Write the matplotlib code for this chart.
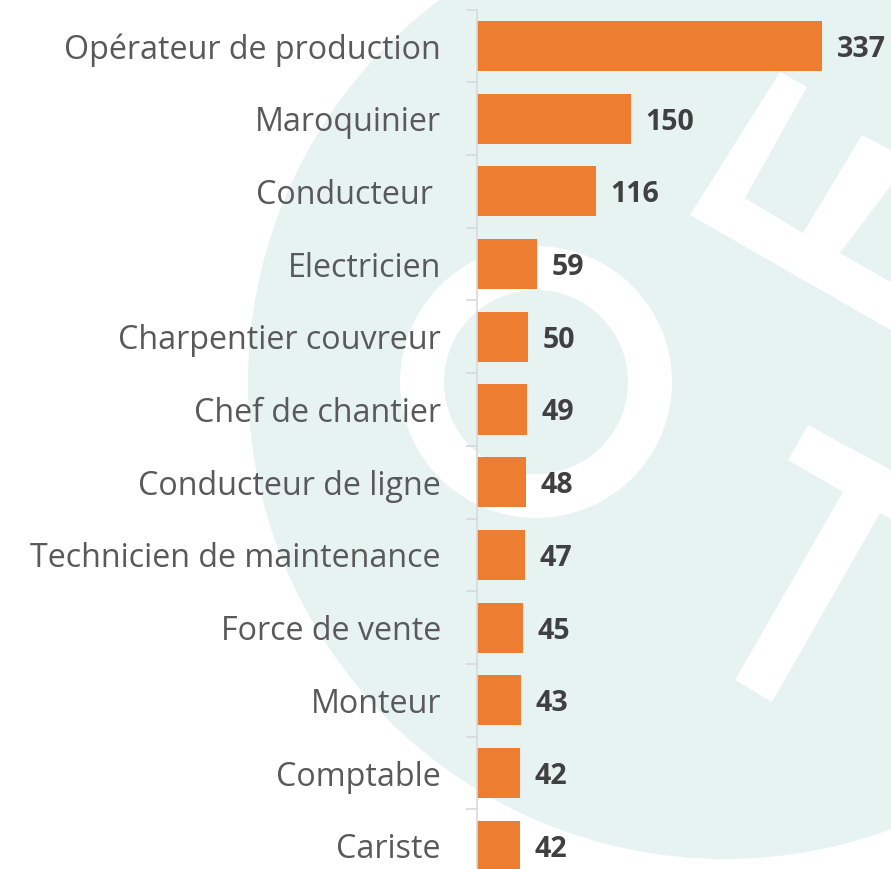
import matplotlib
matplotlib.use("Agg")
import matplotlib.pyplot as plt
from matplotlib.patches import Circle, Annulus, Polygon

# chart data
metiers = ["Opérateur de production", "Maroquinier", "Conducteur ", "Electricien",
           "Charpentier couvreur", "Chef de chantier", "Conducteur de ligne",
           "Technicien de maintenance", "Force de vente", "Monteur", "Comptable", "Cariste"]
effectifs = [337, 150, 116, 59, 50, 49, 48, 47, 45, 43, 42, 42]

W, H = 891, 869
fig = plt.figure(figsize=(W / 100, H / 100), dpi=100)
fig.patch.set_facecolor("white")

# watermark in the background (pixel coordinates)
bg = fig.add_axes([0, 0, 1, 1], zorder=0)
bg.set_xlim(0, W)
bg.set_ylim(H, 0)
bg.axis("off")
teal = "#E7F3F0"
bg.add_patch(Circle((725, 382), 477, color=teal, lw=0))
bg.add_patch(Annulus((536, 382), 136, 44, color="white", lw=0))
bg.add_patch(Polygon([(780, 72), (807, 87), (745, 198), (803, 233), (862, 135), (910, 160),
                      (840, 253), (950, 316), (950, 364), (690, 215)],
                     closed=True, color="white", lw=0))
bg.add_patch(Polygon([(808, 425), (950, 502), (950, 553), (880, 513), (772, 702),
                      (735, 680), (843, 492), (788, 460)],
                     closed=True, color="white", lw=0))

# bar chart
ax_left, ax_top = 477, 9.65
pitch = 72.7
ax_h = pitch * len(metiers)
ax = fig.add_axes([ax_left / W, (H - ax_top - ax_h) / H, (W - ax_left) / W, ax_h / H], zorder=1)
ax.patch.set_alpha(0)

ypos = list(range(len(metiers)))
bars = ax.barh(ypos, effectifs, height=0.688, color="#ED7D31")
ax.set_ylim(len(metiers) - 0.5, -0.5)
ax.set_xlim(0, (W - ax_left) / 1.0237)

vals = ax.bar_label(bars, labels=[str(v) for v in effectifs], padding=10.5,
                    fontsize=20.5, fontweight="bold", color="#404040", family="Open Sans")
for t in vals:
    t.set_va("center_baseline")

for s in ["top", "right", "bottom"]:
    ax.spines[s].set_visible(False)
ax.spines["left"].set_color("#D9D9D9")
ax.spines["left"].set_linewidth(1.2)
ax.set_xticks([])
ax.set_yticks(ypos)
ax.set_yticklabels(metiers, fontsize=23.2, color="#595959", family="Open Sans")
ax.tick_params(axis="y", which="major", length=0, pad=26)
ax.set_yticks([i - 0.5 for i in range(len(metiers) + 1)], minor=True)
ax.tick_params(axis="y", which="minor", length=8, width=1.2, color="#D9D9D9")

fig.savefig("out.png", dpi=100)
